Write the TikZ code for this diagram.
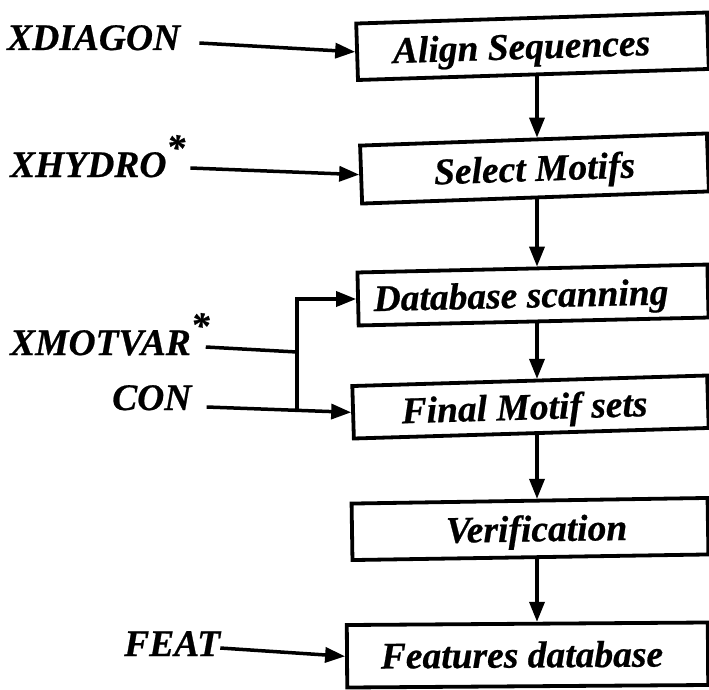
\documentclass[tikz,border=0pt]{standalone}
\usepackage{fontspec}
\newfontfamily\lblfont[FakeBold=0.6]{Liberation Serif}
\usetikzlibrary{arrows.meta,calc}
\newcommand\rstar{\raisebox{17pt}{*}}
\begin{document}
\begin{tikzpicture}[x=1pt,y=-1pt,
  txt/.style={font={\fontsize{37.5}{40}\lblfont\bfseries\itshape}},
  lbl/.style={txt, inner sep=0pt, anchor=base west},
  stage/.style={txt, draw, line width=3.8pt, inner sep=0pt,
    text height=25pt, text depth=0pt, anchor=center},
  wire/.style={line width=3.5pt},
  feed/.style={wire, -{Triangle[length=20pt,width=15pt]}}]
\useasboundingbox (0,0) rectangle (709,690);

% processing stages
\node[stage, minimum width=351pt, minimum height=56.5pt, rotate=1.8]
  (align) at (532.5,46.25) {Align Sequences\hspace*{22pt}};
\node[stage, minimum width=347pt, minimum height=58pt, rotate=2]
  (select) at (534.5,168.5) {Select Motifs};
\node[stage, minimum width=350pt, minimum height=53pt, rotate=1.3]
  (dbscan) at (533,295) {Database scanning\hspace*{24pt}};
\node[stage, minimum width=355pt, minimum height=52.5pt, rotate=1.7]
  (final) at (530.5,407) {Final Motif sets\hspace*{12pt}};
\node[stage, minimum width=356pt, minimum height=56.5pt, rotate=0.9]
  (verif) at (530,529) {\hspace*{13pt}Verification};
\node[stage, minimum width=361pt, minimum height=62.5pt, rotate=0.4]
  (features) at (527.5,655) {Features database\hspace*{11pt}};

% program inputs
\node[lbl] (xdiagon) at (7,50) {XDIAGON};
\node[lbl] (xhydro) at (10,177) {XHYDRO\rstar};
\node[lbl] (xmotvar) at (10,355) {XMOTVAR\rstar};
\node[lbl] (con) at (112,410) {CON};
\node[lbl] (feat) at (124,656) {FEAT};

% inputs feeding the stages
\draw[feed] ([shift={(19,-7)}]xdiagon.base east) -- (align.west);
\draw[feed] ([shift={(5,-9)}]xhydro.base east) -- (select.west);
\coordinate (jmid) at (297,352);
\coordinate (jbot) at (297,411);
\draw[wire] ([shift={(-4,-8)}]xmotvar.base east) -- (jmid);
\draw[feed] (jbot) |- (dbscan.west);
\draw[feed] ([shift={(15,-3)}]con.base east) -- (final.west);
\draw[feed] ([shift={(0,-8)}]feat.base east) -- (features.west);

% main flow
\coordinate (spine) at (537,0);
\foreach \a/\b in {align/select, select/dbscan, dbscan/final, final/verif, verif/features}
  \draw[feed] (\a.south -| spine) -- (\b.north -| spine);
\end{tikzpicture}
\end{document}
